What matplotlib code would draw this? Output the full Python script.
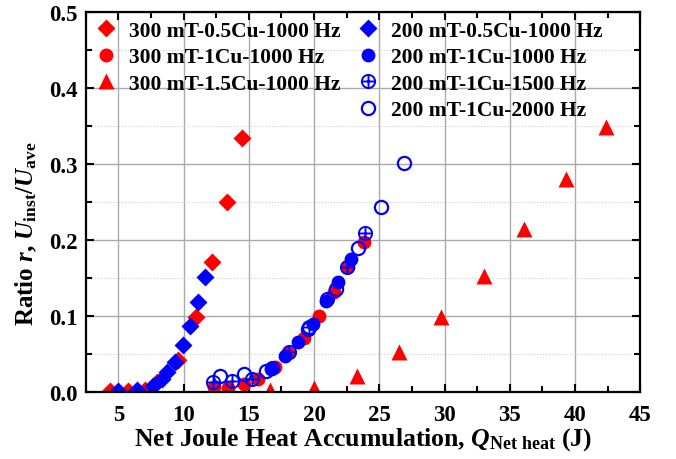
import numpy as np
import matplotlib
matplotlib.use('Agg')
import matplotlib.pyplot as plt
from matplotlib.path import Path
from matplotlib.lines import Line2D

plt.rcParams['font.family'] = 'Liberation Serif'
plt.rcParams['font.weight'] = 'bold'
plt.rcParams['axes.labelweight'] = 'bold'
plt.rcParams['mathtext.fontset'] = 'custom'
plt.rcParams['mathtext.rm'] = 'Liberation Serif:bold'
plt.rcParams['mathtext.it'] = 'Liberation Serif:bold:italic'
plt.rcParams['mathtext.bf'] = 'Liberation Serif:bold'

# 300 mT series
x_300_05 = [4.35, 5.73, 7.04, 7.96, 9.58, 10.96, 12.19, 13.35, 14.5]
y_300_05 = [0.001, 0.001, 0.003, 0.013, 0.042, 0.099, 0.171, 0.250, 0.334]
x_300_1 = [12.3, 13.4, 14.6, 15.7, 17.0, 18.0, 19.2, 20.35, 21.5, 22.6, 23.8]
y_300_1 = [0.007, 0.005, 0.011, 0.017, 0.033, 0.051, 0.071, 0.100, 0.131, 0.164, 0.197]
x_300_15 = [16.65, 20.0, 23.27, 26.5, 29.7, 33.0, 36.1, 39.3, 42.4]
y_300_15 = [0.003, 0.005, 0.021, 0.053, 0.099, 0.153, 0.214, 0.280, 0.349]

# 200 mT series
x_200_05 = [4.96, 6.42, 7.65, 8.35, 8.73, 9.35, 9.96, 10.5, 11.1, 11.65]
y_200_05 = [0.001, 0.002, 0.008, 0.017, 0.026, 0.039, 0.062, 0.087, 0.118, 0.151]
x_200_1k = [16.7, 17.8, 18.8, 19.9, 20.9, 21.8, 22.85]
y_200_1k = [0.030, 0.047, 0.066, 0.089, 0.120, 0.145, 0.175]
x_200_15k = [12.27, 13.7, 15.27, 16.8, 18.1, 19.6, 21.0, 22.5, 23.9]
y_200_15k = [0.013, 0.015, 0.017, 0.031, 0.053, 0.086, 0.122, 0.164, 0.209]
x_200_2k = [12.8, 14.6, 16.3, 19.5, 21.65, 23.4, 25.1, 26.9]
y_200_2k = [0.021, 0.024, 0.028, 0.083, 0.135, 0.189, 0.243, 0.301]

labels_300 = ['300 mT-0.5Cu-1000 Hz', '300 mT-1Cu-1000 Hz', '300 mT-1.5Cu-1000 Hz']
labels_200 = ['200 mT-0.5Cu-1000 Hz', '200 mT-1Cu-1000 Hz', '200 mT-1Cu-1500 Hz',
              '200 mT-1Cu-2000 Hz']

# circle with a plus inside
circ = Path.unit_circle()
verts = list(circ.vertices) + [(-1, 0), (1, 0), (0, -1), (0, 1)]
codes = list(circ.codes) + [Path.MOVETO, Path.LINETO, Path.MOVETO, Path.LINETO]
oplus = Path(verts, codes)

red = '#ff0000'
blue = '#0000ff'

fig = plt.figure(figsize=(6.76, 4.60), dpi=100)
ax = fig.add_axes([0.127, 0.1457, 0.82, 0.826])

h = []
h.append(ax.plot(x_300_05, y_300_05, 'D', color=red, ms=9, mec='none', label=labels_300[0])[0])
h.append(ax.plot(x_300_1, y_300_1, 'o', color=red, ms=10, mec='none', label=labels_300[1])[0])
h.append(ax.plot(x_300_15, y_300_15, '^', color=red, ms=11, mec='none', label=labels_300[2])[0])
h.append(ax.plot(x_200_05, y_200_05, 'D', color=blue, ms=9, mec='none', label=labels_200[0])[0])
h.append(ax.plot(x_200_1k, y_200_1k, 'o', color=blue, ms=10, mec='none', label=labels_200[1])[0])
h.append(ax.plot(x_200_15k, y_200_15k, marker=oplus, ls='none', mfc='none', mec=blue,
                 mew=1.4, ms=9.5, label=labels_200[2])[0])
h.append(ax.plot(x_200_2k, y_200_2k, 'o', mfc='none', mec=blue, mew=1.6, ms=9.5,
                 label=labels_200[3])[0])

ax.set_xlim(2.5, 45)
ax.set_ylim(0, 0.5)
ax.set_xticks(np.arange(5, 46, 5))
ax.set_xticks(np.arange(2.5, 45.1, 2.5), minor=True)
ax.set_yticks(np.arange(0, 0.51, 0.1))
ax.set_yticks(np.arange(0.05, 0.5, 0.1), minor=True)
ax.set_yticklabels(['%.1f' % v for v in np.arange(0, 0.51, 0.1)])
ax.tick_params(which='both', direction='in', top=True, right=True, labelsize=16.5, width=1.5)
ax.tick_params(which='major', length=6)
ax.tick_params(which='minor', length=4)
ax.tick_params(axis='x', pad=9)
ax.tick_params(axis='y', pad=6)
for lab in ax.get_xticklabels() + ax.get_yticklabels():
    lab.set_fontweight('bold')
for s in ax.spines.values():
    s.set_linewidth(1.6)

ax.grid(which='major', color='#aaaaaa', lw=1.0)
ax.grid(which='minor', axis='y', color='#cccccc', lw=0.8, ls=':')
ax.set_axisbelow(True)

ax.set_xlabel(r'Net Joule Heat Accumulation, $Q_{\mathrm{Net\ heat}}$ (J)', fontsize=18.5,
              labelpad=0)
ax.set_ylabel(r'Ratio $r$, $U_{\mathrm{inst}}/U_{\mathrm{ave}}$', fontsize=18)
ax.yaxis.set_label_coords(-0.085, 0.42)

blank = Line2D([], [], ls='none', marker='none')
handles = h[:3] + [blank] + h[3:]
labs = labels_300 + [''] + labels_200
ax.legend(handles, labs, ncol=2, loc='upper left', bbox_to_anchor=(-0.022, 1.028),
          frameon=False, fontsize=15.5, handletextpad=0.45, columnspacing=0.7,
          labelspacing=0.3, handlelength=1.2)

fig.savefig('out.png', dpi=100)
